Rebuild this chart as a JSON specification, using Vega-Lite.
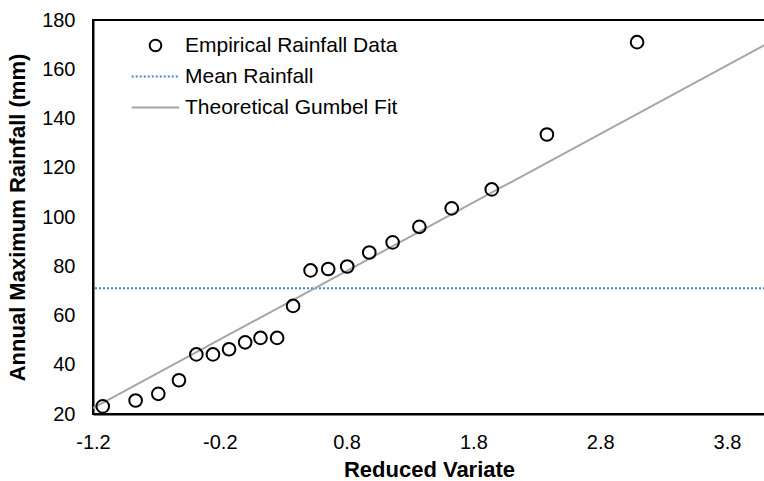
{
  "$schema": "https://vega.github.io/schema/vega-lite/v6.json",
  "width": 672,
  "height": 394,
  "autosize": {"type": "none"},
  "padding": {"left": 93, "top": 20, "right": 0, "bottom": 67},
  "background": "white",
  "config": {
    "font": "Liberation Sans",
    "view": {"stroke": "black", "strokeWidth": 2},
    "axis": {"grid": false, "ticks": false, "domainColor": "black", "domainWidth": 2, "labelColor": "black", "titleColor": "black", "labelFont": "Liberation Sans", "titleFont": "Liberation Sans"}
  },
  "datasets": {
    "empirical": [
      {"x": -1.123, "y": 23.1, "series": "Empirical Rainfall Data"},
      {"x": -0.864, "y": 25.5, "series": "Empirical Rainfall Data"},
      {"x": -0.685, "y": 28.2, "series": "Empirical Rainfall Data"},
      {"x": -0.522, "y": 33.7, "series": "Empirical Rainfall Data"},
      {"x": -0.385, "y": 44.2, "series": "Empirical Rainfall Data"},
      {"x": -0.254, "y": 44.2, "series": "Empirical Rainfall Data"},
      {"x": -0.127, "y": 46.3, "series": "Empirical Rainfall Data"},
      {"x": 0.0, "y": 49.1, "series": "Empirical Rainfall Data"},
      {"x": 0.121, "y": 50.9, "series": "Empirical Rainfall Data"},
      {"x": 0.252, "y": 50.9, "series": "Empirical Rainfall Data"},
      {"x": 0.378, "y": 63.9, "series": "Empirical Rainfall Data"},
      {"x": 0.516, "y": 78.3, "series": "Empirical Rainfall Data"},
      {"x": 0.655, "y": 78.9, "series": "Empirical Rainfall Data"},
      {"x": 0.805, "y": 79.9, "series": "Empirical Rainfall Data"},
      {"x": 0.979, "y": 85.6, "series": "Empirical Rainfall Data"},
      {"x": 1.163, "y": 89.7, "series": "Empirical Rainfall Data"},
      {"x": 1.374, "y": 96.0, "series": "Empirical Rainfall Data"},
      {"x": 1.629, "y": 103.5, "series": "Empirical Rainfall Data"},
      {"x": 1.945, "y": 111.2, "series": "Empirical Rainfall Data"},
      {"x": 2.38, "y": 133.5, "series": "Empirical Rainfall Data"},
      {"x": 3.091, "y": 171.0, "series": "Empirical Rainfall Data"}
    ],
    "mean": [{"y": 71.1, "series": "Mean Rainfall"}],
    "fit": [
      {"x": -1.2, "y": 22.4, "series": "Theoretical Gumbel Fit"},
      {"x": 4.1, "y": 169.9, "series": "Theoretical Gumbel Fit"}
    ]
  },
  "layer": [
    {
      "data": {"name": "mean"},
      "mark": {"type": "rule", "color": "#3f82cc", "strokeWidth": 2, "strokeDash": [2, 2]},
      "encoding": {
        "y": {"field": "y", "type": "quantitative"}
      }
    },
    {
      "data": {"name": "fit"},
      "mark": {"type": "line", "color": "#a6a6a6", "strokeWidth": 2, "clip": true},
      "encoding": {
        "x": {"field": "x", "type": "quantitative"},
        "y": {"field": "y", "type": "quantitative"}
      }
    },
    {
      "data": {"name": "empirical"},
      "mark": {"type": "point", "filled": false, "strokeWidth": 2, "size": 160, "opacity": 1},
      "encoding": {
        "x": {
          "field": "x", "type": "quantitative",
          "scale": {"domain": [-1.2, 4.1], "nice": false, "zero": false},
          "axis": {
            "values": [-1.2, -0.2, 0.8, 1.8, 2.8, 3.8],
            "labelExpr": "datum.value < 0 ? '-' + format(-datum.value, '.1f') : format(datum.value, '.1f')",
            "labelFontSize": 20, "labelPadding": 18, "labelFlush": false, "labelOverlap": false, "labelBound": false,
            "title": "Reduced Variate", "titleFontSize": 22, "titleFontWeight": "bold", "titlePadding": 7
          }
        },
        "y": {
          "field": "y", "type": "quantitative",
          "scale": {"domain": [20, 180], "nice": false, "zero": false},
          "axis": {
            "values": [20, 40, 60, 80, 100, 120, 140, 160, 180],
            "labelFontSize": 20, "labelPadding": 18, "labelFlush": false, "labelOverlap": false,
            "title": "Annual Maximum Rainfall (mm)", "titleFontSize": 22, "titleFontWeight": "bold", "titlePadding": 12
          }
        },
        "color": {
          "field": "series", "type": "nominal",
          "scale": {"domain": ["Empirical Rainfall Data", "Mean Rainfall", "Theoretical Gumbel Fit"], "range": ["black", "#3f82cc", "#a6a6a6"]},
          "legend": {
            "orient": "none", "legendX": 52, "legendY": 15, "title": null,
            "labelFontSize": 21, "labelColor": "black", "labelFont": "Liberation Sans", "labelLimit": 500,
            "symbolSize": 135, "symbolStrokeWidth": 2, "rowPadding": 9, "labelOffset": 19, "padding": 0
          }
        },
        "shape": {
          "field": "series", "type": "nominal",
          "scale": {"domain": ["Empirical Rainfall Data", "Mean Rainfall", "Theoretical Gumbel Fit"], "range": ["circle", "M-4.1,0H-3.76M-3.41,0H-3.07M-2.72,0H-2.38M-2.03,0H-1.69M-1.34,0H-1M-0.65,0H-0.31M0.04,0H0.38M0.73,0H1.07M1.42,0H1.76M2.11,0H2.45M2.8,0H3.14M3.49,0H3.83", "M-4.1,0H4.1"]},
          "legend": {
            "orient": "none", "legendX": 52, "legendY": 15, "title": null,
            "labelFontSize": 21, "labelColor": "black", "labelFont": "Liberation Sans", "labelLimit": 500,
            "symbolSize": 135, "symbolStrokeWidth": 2, "rowPadding": 9, "labelOffset": 19, "padding": 0
          }
        }
      }
    }
  ]
}
